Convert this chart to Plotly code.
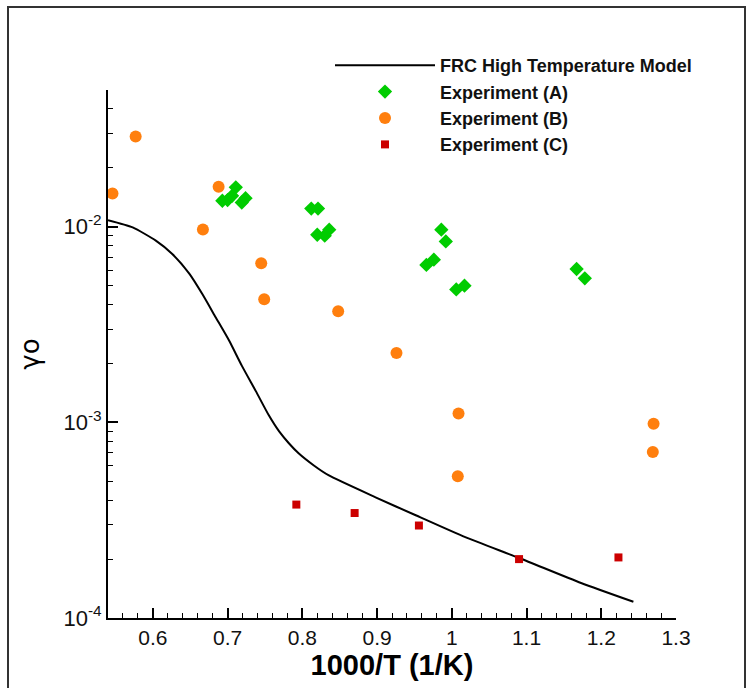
import plotly.graph_objects as go

# FRC High Temperature Model curve
model_x = [0.540, 0.573, 0.604, 0.626, 0.649, 0.666, 0.684, 0.702, 0.719, 0.738,
           0.755, 0.769, 0.782, 0.795, 0.815, 0.835, 0.898, 0.951, 1.018,
           1.091, 1.173, 1.243]
model_y = [0.0108, 0.00992, 0.00849, 0.00726, 0.00574, 0.00454, 0.00345, 0.00262,
           0.00195, 0.00144, 0.00109, 0.000899, 0.000782, 0.000695,
           0.000604, 0.000537, 0.000414, 0.000336, 0.000259, 0.000202, 0.000151,
           0.000121]

# Experiment (A)
exp_a_x = [0.693, 0.700, 0.706, 0.711, 0.719, 0.724, 0.812, 0.821, 0.820, 0.830,
           0.836, 0.986, 0.992, 0.976, 0.966, 1.017, 1.006, 1.167, 1.178]
exp_a_y = [0.01358, 0.01368, 0.01439, 0.0159, 0.0133, 0.0140, 0.01239, 0.01239,
           0.0091, 0.0090, 0.00966, 0.00966, 0.00841, 0.00679, 0.00638, 0.0050,
           0.00478, 0.00608, 0.00545]

# Experiment (B)
exp_b_x = [0.546, 0.577, 0.688, 0.667, 0.745, 0.749, 0.848, 0.926, 1.009, 1.008,
           1.270, 1.269]
exp_b_y = [0.01479, 0.0289, 0.0160, 0.00969, 0.0065, 0.00426, 0.0037, 0.00226,
           0.00111, 0.00053, 0.000984, 0.000705]

# Experiment (C)
exp_c_x = [0.792, 0.870, 0.956, 1.090, 1.223]
exp_c_y = [0.00038, 0.000344, 0.000297, 0.000200, 0.000204]

x_ticks = [0.6, 0.7, 0.8, 0.9, 1.0, 1.1, 1.2, 1.3]
x_tick_text = ["0.6", "0.7", "0.8", "0.9", "1", "1.1", "1.2", "1.3"]
y_ticks = [1e-4, 1e-3, 1e-2]
y_tick_text = ["10<sup>-4</sup>", "10<sup>-3</sup>", "10<sup>-2</sup>"]
y_minor = [m * 10.0 ** e for e in (-4, -3, -2) for m in range(2, 10)]

fig = go.Figure()
fig.add_trace(go.Scatter(x=model_x, y=model_y, mode="lines",
                         name="FRC High Temperature Model",
                         line=dict(color="black", width=2, shape="spline", smoothing=0.6)))
fig.add_trace(go.Scatter(x=exp_a_x, y=exp_a_y, mode="markers", name="Experiment (A)",
                         marker=dict(symbol="diamond", size=11, color="#00CC00")))
fig.add_trace(go.Scatter(x=exp_b_x, y=exp_b_y, mode="markers", name="Experiment (B)",
                         marker=dict(symbol="circle", size=12, color="#FF7F0E")))
fig.add_trace(go.Scatter(x=exp_c_x, y=exp_c_y, mode="markers", name="Experiment (C)",
                         marker=dict(symbol="square", size=8, color="#CC0000")))

tick_font = dict(family="Liberation Sans, Arial, sans-serif", size=21, color="#111")

fig.update_layout(
    width=753, height=688, autosize=False,
    margin=dict(l=108, r=77, t=90, b=70),
    paper_bgcolor="white", plot_bgcolor="white",
    showlegend=True,
    legend=dict(x=(330 - 108) / 568, y=(618 - 47) / 528, xanchor="left", yanchor="top",
                bgcolor="rgba(0,0,0,0)", itemwidth=100,
                font=dict(family="Liberation Sans, Arial, sans-serif", size=18, color="#111",
                          weight="bold"),
                tracegroupgap=0),
    xaxis=dict(range=[0.54, 1.3], tickvals=x_ticks, ticktext=x_tick_text,
               ticks="inside", ticklen=10, tickwidth=2, tickcolor="black",
               minor=dict(dtick=0.02, tick0=0.5, ticks="inside", ticklen=5, tickwidth=1,
                          tickcolor="black"),
               showline=True, linecolor="black", linewidth=2, showgrid=False, zeroline=False,
               tickfont=tick_font,
               title=dict(text="<b>1000/T (1/K)</b>",
                          font=dict(family="Liberation Sans, Arial, sans-serif",
                                    size=29, color="black"), standoff=6)),
    yaxis=dict(type="log", range=[-4, -1.301], tickvals=y_ticks, ticktext=y_tick_text,
               ticks="inside", ticklen=10, tickwidth=2, tickcolor="black",
               minor=dict(tickvals=y_minor, ticks="inside", ticklen=5, tickwidth=1,
                          tickcolor="black"),
               showline=True, linecolor="black", linewidth=2, showgrid=False, zeroline=False,
               tickfont=dict(family="Liberation Sans, Arial, sans-serif", size=22,
                             color="#111"),
               title=dict(text="γo",
                          font=dict(family="DejaVu Sans, sans-serif", size=26, color="black"),
                          standoff=16)),
)

fig.add_shape(type="rect", xref="paper", yref="paper",
              x0=(8 - 108) / 568, x1=(745 - 108) / 568,
              y0=-0.3, y1=(618 - 7) / 528,
              line=dict(color="#333333", width=2), fillcolor="rgba(0,0,0,0)", layer="below")

fig.write_html("out.html")
